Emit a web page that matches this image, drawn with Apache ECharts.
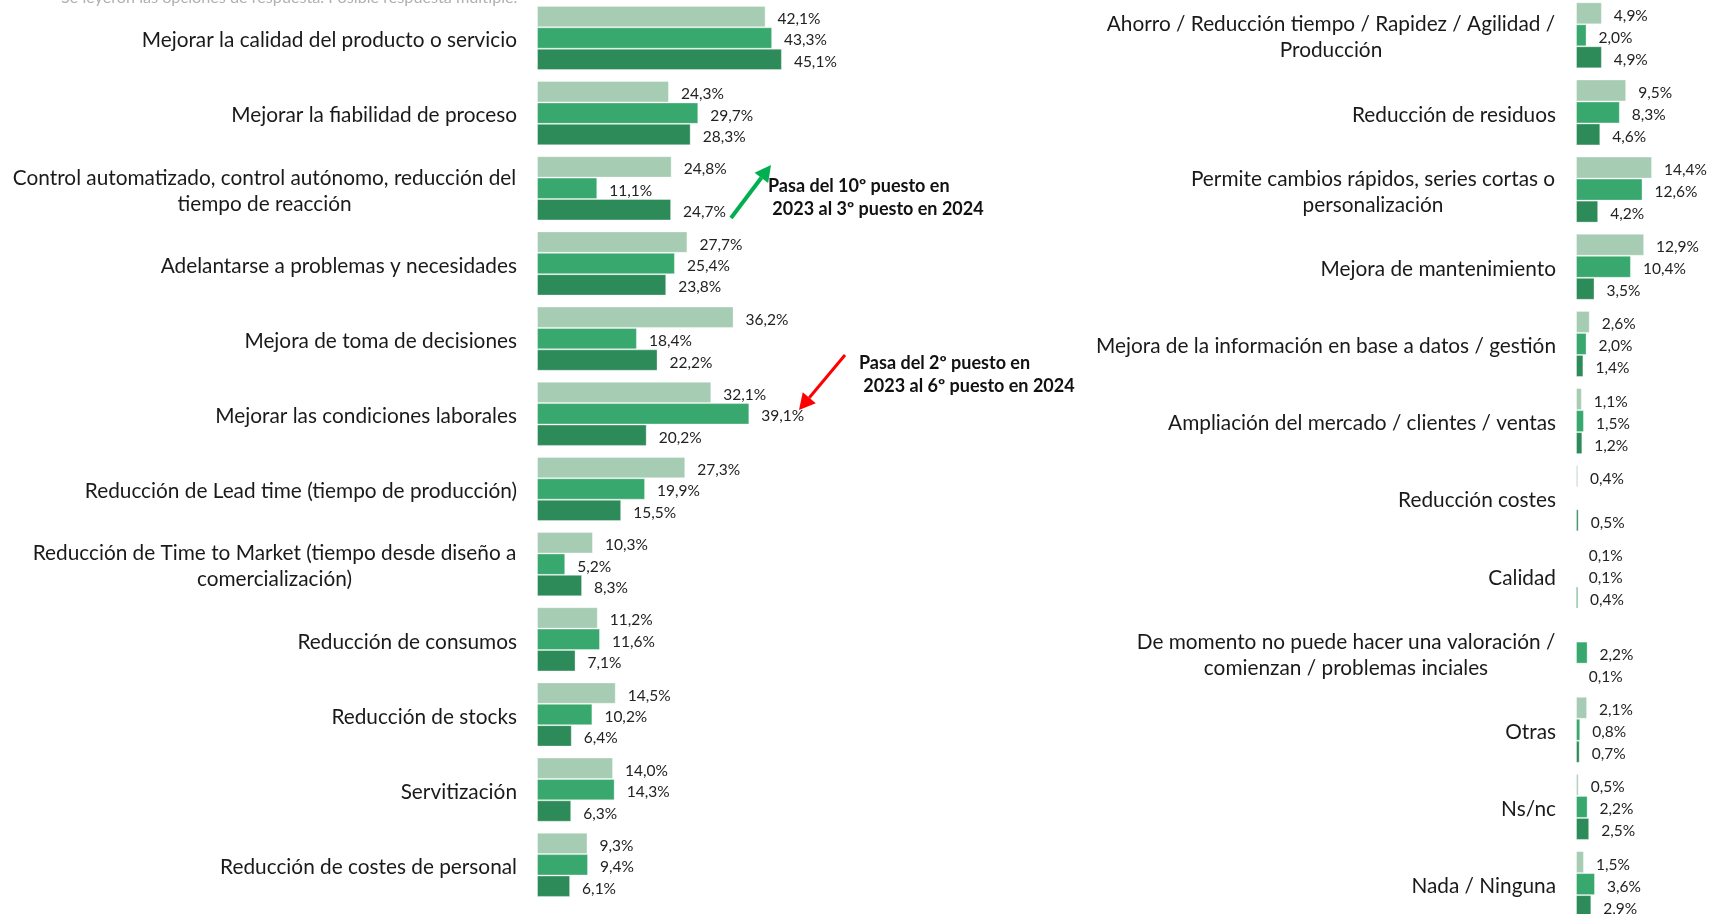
<!DOCTYPE html>
<html>
<head>
<meta charset="utf-8">
<script src="https://cdn.jsdelivr.net/npm/echarts@6/dist/echarts.min.js"></script>
<style>
  html, body { margin: 0; padding: 0; background: #fff; }
  #chart { width: 1712px; height: 914px; }
</style>
</head>
<body>
<div id="chart"></div>
<script>
// series: top bar = 2022, middle = 2023, bottom = 2024
let seriesNames = ['2022', '2023', '2024'];
let colors = ['#A6CCB3', '#38A86F', '#2D8A59'];

let leftCategories = [
  'Mejorar la calidad del producto o servicio',
  'Mejorar la fiabilidad de proceso',
  'Control automatizado, control autónomo, reducción del\ntiempo de reacción',
  'Adelantarse a problemas y necesidades',
  'Mejora de toma de decisiones',
  'Mejorar las condiciones laborales',
  'Reducción de Lead time (tiempo de producción)',
  'Reducción de Time to Market (tiempo desde diseño a\ncomercialización)',
  'Reducción de consumos',
  'Reducción de stocks',
  'Servitización',
  'Reducción de costes de personal'
];
let left2022 = [42.1, 24.3, 24.8, 27.7, 36.2, 32.1, 27.3, 10.3, 11.2, 14.5, 14.0, 9.3];
let left2023 = [43.3, 29.7, 11.1, 25.4, 18.4, 39.1, 19.9, 5.2, 11.6, 10.2, 14.3, 9.4];
let left2024 = [45.1, 28.3, 24.7, 23.8, 22.2, 20.2, 15.5, 8.3, 7.1, 6.4, 6.3, 6.1];

let rightCategories = [
  'Ahorro / Reducción tiempo / Rapidez / Agilidad /\nProducción',
  'Reducción de residuos',
  'Permite cambios rápidos, series cortas o\npersonalización',
  'Mejora de mantenimiento',
  'Mejora de la información en base a datos / gestión',
  'Ampliación del mercado / clientes / ventas',
  'Reducción costes',
  'Calidad',
  'De momento no puede hacer una valoración /\ncomienzan / problemas inciales',
  'Otras',
  'Ns/nc',
  'Nada / Ninguna'
];
let right2022 = [4.9, 9.5, 14.4, 12.9, 2.6, 1.1, 0.4, 0.1, null, 2.1, 0.5, 1.5];
let right2023 = [2.0, 8.3, 12.6, 10.4, 2.0, 1.5, null, 0.1, 2.2, 0.8, 2.2, 3.6];
let right2024 = [4.9, 4.6, 4.2, 3.5, 1.4, 1.2, 0.5, 0.4, 0.1, 0.7, 2.5, 2.9];

let note = 'Se leyeron las opciones de respuesta. Posible respuesta múltiple.';

let catFont = 20.8;
let fontFamily = 'Lato';

// multi-line labels: lines centred on each other, block right-aligned
let ctx = document.createElement('canvas').getContext('2d');
ctx.font = catFont + 'px ' + fontFamily;
let buildRich = cats => {
  let rich = {};
  cats.forEach((c, i) => {
    let lines = c.split('\n');
    if (lines.length > 1) {
      let w = Math.max(...lines.map(l => ctx.measureText(l).width));
      rich['w' + i] = { width: Math.ceil(w) + 1, align: 'center', fontSize: catFont, fontFamily: fontFamily, color: '#1a1a1a', lineHeight: 26 };
    }
  });
  return rich;
};
let catFormatter = cats => (value, index) => {
  let lines = value.split('\n');
  if (lines.length === 1) return value;
  return lines.map(l => '{w' + index + '|' + l + '}').join('\n');
};

let pct = p => p.value == null ? '' : p.value.toFixed(1).replace('.', ',') + '%';

let yAxisFor = (gridIndex, cats) => ({
  type: 'category',
  gridIndex: gridIndex,
  data: cats,
  inverse: true,
  axisLine: { show: false },
  axisTick: { show: false },
  axisLabel: {
    margin: 20,
    padding: [5, 0, 0, 0],
    fontSize: catFont,
    fontFamily: fontFamily,
    color: '#1a1a1a',
    lineHeight: 26,
    formatter: catFormatter(cats),
    rich: buildRich(cats)
  }
});

let barSeries = (name, data, color, axisIndex, barWidth) => ({
  name: name,
  type: 'bar',
  xAxisIndex: axisIndex,
  yAxisIndex: axisIndex,
  data: data,
  barWidth: barWidth,
  barGap: '0%',
  itemStyle: {
    color: color,
    borderColor: 'rgba(255,255,255,0.35)',
    borderWidth: 1
  },
  label: {
    show: true,
    position: 'right',
    distance: 12,
    offset: [0, 2.5],
    fontSize: 15.5,
    fontFamily: fontFamily,
    color: '#222',
    formatter: pct
  },
  emphasis: { disabled: true }
});

let arrow = (x1, y1, x2, y2, color, width) => {
  let dx = x2 - x1, dy = y2 - y1;
  let len = Math.sqrt(dx * dx + dy * dy);
  let ux = dx / len, uy = dy / len;
  let head = 16, half = 8.5;
  let bx = x2 - ux * head, by = y2 - uy * head;
  return [
    { type: 'line', shape: { x1: x1, y1: y1, x2: bx, y2: by }, style: { stroke: color, lineWidth: width } },
    { type: 'polygon', shape: { points: [[x2, y2], [bx - uy * half, by + ux * half], [bx + uy * half, by - ux * half]] }, style: { fill: color } }
  ];
};

let annoText = (x, y, text) => ({
  type: 'text',
  x: x,
  y: y,
  style: {
    text: text,
    font: 'bold 18px ' + fontFamily,
    fill: '#111',
    lineHeight: 23
  }
});

let option = {
  animation: false,
  tooltip: { show: false },
  grid: [
    { left: 537, top: 0.4, width: 543, height: 902, outerBoundsMode: 'none' },
    { left: 1576, top: -3.3, width: 132, height: 926, outerBoundsMode: 'none' }
  ],
  xAxis: [
    { type: 'value', gridIndex: 0, min: 0, max: 100, show: false },
    { type: 'value', gridIndex: 1, min: 0, max: 25, show: false }
  ],
  yAxis: [yAxisFor(0, leftCategories), yAxisFor(1, rightCategories)],
  series: [
    barSeries(seriesNames[0], left2022, colors[0], 0, 21.4),
    barSeries(seriesNames[1], left2023, colors[1], 0, 21.4),
    barSeries(seriesNames[2], left2024, colors[2], 0, 21.4),
    barSeries(seriesNames[0], right2022, colors[0], 1, 22),
    barSeries(seriesNames[1], right2023, colors[1], 1, 22),
    barSeries(seriesNames[2], right2024, colors[2], 1, 22)
  ],
  graphic: [
    {
      type: 'text',
      x: 61,
      y: 6,
      style: { text: note, font: '16.2px ' + fontFamily, fill: '#b0b0b0', verticalAlign: 'bottom' }
    },
    ...arrow(731, 218, 771, 165, '#00B050', 4),
    ...arrow(845, 355, 799, 410, '#FF0000', 3),
    annoText(768, 175, 'Pasa del 10º puesto en\n 2023 al 3º puesto en 2024'),
    annoText(859, 352, 'Pasa del 2º puesto en\n 2023 al 6º puesto en 2024')
  ]
};

let myChart = echarts.init(document.getElementById('chart'));
myChart.setOption(option);
</script>
</body>
</html>
